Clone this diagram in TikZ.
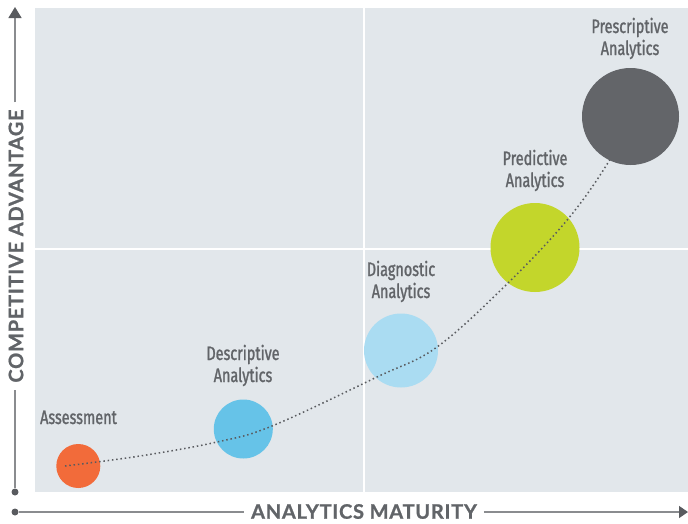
\documentclass[tikz,border=0pt]{standalone}
\usepackage{fontspec}
\usetikzlibrary{arrows.meta}
\newfontfamily\labelfont[FakeStretch=0.74, FakeBold=1.3]{Fira Sans}
\newfontfamily\axisfont[LetterSpace=3.8, FakeBold=1]{Lato}
\definecolor{panel}{HTML}{E2E7EB}
\definecolor{ink}{HTML}{616468}
\definecolor{axisgray}{HTML}{8A8C8F}
\definecolor{axisdark}{HTML}{595B5F}
\definecolor{cAssess}{HTML}{F26B3A}
\definecolor{cDescr}{HTML}{66C3E8}
\definecolor{cDiagn}{HTML}{AADCF2}
\definecolor{cPredi}{HTML}{C3D62B}
\definecolor{cPresc}{HTML}{636569}
\begin{document}
\begin{tikzpicture}[x=1pt,y=-1pt,
  stage/.style={circle, draw=none, inner sep=0pt},
  stagelabel/.style={anchor=base, align=center, inner sep=0pt, text=ink,
    font=\labelfont\fontsize{19.5}{22}\selectfont},
  axislabel/.style={text=ink, inner sep=0pt, outer sep=7pt,
    font=\axisfont\bfseries\fontsize{20}{21}\selectfont},
  axisline/.style={draw=axisgray, line width=1.4pt},
  axisdot/.style={circle, fill=axisdark, inner sep=0pt, minimum size=7pt},
  trend/.style={draw=axisdark, line width=1.5pt, dash pattern=on 1.5pt off 2.8pt}
]
\useasboundingbox (0,0) rectangle (688,523);

% quadrant panel
\fill[panel] (35,8) rectangle (688,492);
\draw[white, line width=2pt] (363.5,8) -- (363.5,492);
\draw[white, line width=2pt] (35,249) -- (688,249);

% maturity stages
\node[stage, fill=cAssess, minimum size=44pt] (assess) at (78.3,466) {};
\node[stage, fill=cDescr,  minimum size=59pt] (descr)  at (243.3,429) {};
\node[stage, fill=cDiagn,  minimum size=74pt] (diagn)  at (401,350.5) {};
\node[stage, fill=cPredi,  minimum size=89pt] (predi)  at (535,247.5) {};

% trend line through the stages
\draw[trend] plot[smooth, tension=0.6] coordinates
  {(65,466) (140,456) (217,442) (272,426) (377,377) (437,347) (508,283) (568,219) (609,161) (625,125)};

\node[stage, fill=cPresc, minimum size=97pt] (presc) at (630.5,116.5) {};

% stage labels (base = baseline of the last line)
\node[stagelabel] (lassess) at (78.5,424) {Assessment};
\node[stagelabel] (ldescr)  at (243,382) {Descriptive\\Analytics};
\node[stagelabel] (ldiagn)  at (401,298) {Diagnostic\\Analytics};
\node[stagelabel] (lpredi)  at (535,187) {Predictive\\Analytics};
\node[stagelabel] (lpresc)  at (630,55)  {Prescriptive\\Analytics};

% vertical axis
\node[axisdot] (yorigin) at (15,492) {};
\coordinate (ytip) at (15,7);
\node[axislabel, rotate=90] (ylab) at (16,246) {COMPETITIVE ADVANTAGE};
\draw[axisline] (yorigin) -- (yorigin |- ylab.west);
\draw[axisline, -{Triangle[width=13pt,length=11pt,color=axisdark]}] (yorigin |- ylab.east) -- (ytip);

% horizontal axis
\node[axisdot] (xorigin) at (15,512) {};
\coordinate (xtip) at (688,512);
\node[axislabel] (xlab) at (364,511.5) {ANALYTICS MATURITY};
\draw[axisline] (xorigin) -- (xorigin -| xlab.west);
\draw[axisline, -{Triangle[width=12pt,length=9pt,color=axisdark]}] (xorigin -| xlab.east) -- (xtip);
\end{tikzpicture}
\end{document}
